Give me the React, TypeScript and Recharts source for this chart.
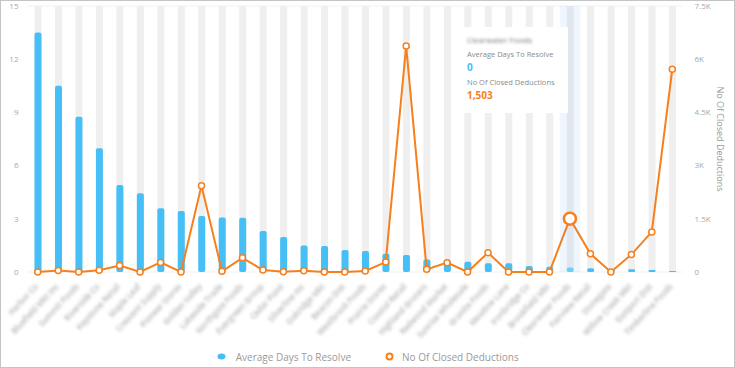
import React from "react";
import {
  ComposedChart,
  Bar,
  Line,
  XAxis,
  YAxis,
  CartesianGrid,
  Tooltip,
  Legend,
} from "recharts";

// customer names are blurred in the source, so these are stand-ins
const customers = [
  "Harbor Co",
  "Bluefield Mkt Inc",
  "Summit Foods",
  "Riverside Co",
  "Keystone Retail",
  "Maple Leaf",
  "Crescent Supply",
  "Pioneer Stores",
  "Golden Valley",
  "Lakeside Trade",
  "Northgate Foods",
  "Evergreen Group",
  "Cedar Point",
  "Silverline Inc",
  "Oakridge Mkt",
  "Beacon Dist",
  "Westbrook Foods",
  "Prairie Stores",
  "Coastal Retail",
  "Highland Grocers",
  "Redwood Market",
  "Sunrise Wholesale",
  "Granite Foods",
  "Meadow Lane",
  "Ironbridge Co",
  "Brookfield Mkt",
  "Clearwater Foods",
  "Fairview Retail",
  "Stonegate",
  "Willow Creek Mkt",
  "Eastport Dist",
  "Timberline Foods",
];

const avgDaysToResolve = [
  13.5, 10.5, 8.76, 6.98, 4.9, 4.44, 3.6, 3.44, 3.16, 3.08, 3.06, 2.31, 1.97,
  1.5, 1.47, 1.24, 1.18, 1.03, 0.96, 0.71, 0.62, 0.58, 0.49, 0.49, 0.34, 0.3,
  0.26, 0.21, 0.15, 0.15, 0.11, 0.06,
];

const closedDeductions = [
  0, 40, 0, 50, 180, 0, 270, 0, 2435, 20, 400, 55, 10, 35, 0, 0, 30, 280, 6370,
  75, 263, 0, 545, 0, 0, 0, 1503, 515, 0, 490, 1130, 5716,
];

const leftTicks = [0, 3, 6, 9, 12, 15];
const rightTicks = [0, 1500, 3000, 4500, 6000, 7500];

const BLUE = "#45bff5";
const ORANGE = "#f77f1c";
const FONT = "'Open Sans', sans-serif";

const data = customers.map((name, i) => ({
  name,
  avgDays: avgDaysToResolve[i],
  closed: closedDeductions[i],
}));

const fmtK = (v: number) => (v === 0 ? "0" : `${v / 1000}K`);

function BlurTick({ x, y, payload }: any) {
  return (
    <g transform={`translate(${x - 1},${y + 5})`}>
      <text
        x={0}
        y={0}
        dy={3}
        textAnchor="end"
        transform="rotate(-47)"
        fill="#b4b4b4"
        fontSize={8}
        fontWeight={600}
        fontFamily={FONT}
        style={{ filter: "blur(1.8px)" }}
      >
        {payload.value}
      </text>
    </g>
  );
}

// band-shaped hover column, translucent so the marks show through
function BandCursor(props: any) {
  const { points, top, height, width } = props;
  if (!points || !points.length) return null;
  const w = width / data.length;
  return (
    <rect
      x={points[0].x - w / 2}
      y={top}
      width={w}
      height={height}
      fill="#3b8fe0"
      fillOpacity={0.08}
    />
  );
}

function TipBox({ active, payload, label }: any) {
  if (!active || !payload || !payload.length) return null;
  const days = payload.find((p: any) => p.dataKey === "avgDays");
  const closed = payload.find((p: any) => p.dataKey === "closed");
  return (
    <div
      style={{
        width: 108,
        height: 86,
        boxSizing: "border-box",
        background: "#fff",
        padding: "7px 7px",
        fontFamily: FONT,
      }}
    >
      <div
        style={{
          fontSize: 8,
          color: "#777",
          filter: "blur(1.5px)",
          lineHeight: "11px",
        }}
      >
        {label}
      </div>
      <div style={{ fontSize: 7.5, color: "#8a8a8a", marginTop: 4, lineHeight: "10px" }}>
        Average Days To Resolve
      </div>
      <div style={{ fontSize: 10, fontWeight: 700, color: BLUE, marginTop: 2, lineHeight: "13px" }}>
        {Math.round(days ? days.value : 0)}
      </div>
      <div style={{ fontSize: 7.5, color: "#8a8a8a", marginTop: 3, lineHeight: "10px" }}>
        No Of Closed Deductions
      </div>
      <div style={{ fontSize: 10, fontWeight: 700, color: ORANGE, marginTop: 2, lineHeight: "13px" }}>
        {(closed ? closed.value : 0).toLocaleString("en-US")}
      </div>
    </div>
  );
}

function LegendRow() {
  const item = { display: "flex", alignItems: "center", fontSize: 10, color: "#9a9a9a" };
  return (
    <div
      style={{
        display: "flex",
        justifyContent: "center",
        gap: 34,
        fontFamily: FONT,
        height: 25,
        alignItems: "center",
        paddingLeft: 2,
        paddingTop: 4,
        boxSizing: "border-box",
      }}
    >
      <div style={item}>
        <svg width={9} height={7} style={{ marginRight: 10 }}>
          <ellipse cx={4.5} cy={3.5} rx={4} ry={3} fill={BLUE} />
        </svg>
        Average Days To Resolve
      </div>
      <div style={item}>
        <svg width={9} height={9} style={{ marginRight: 8 }}>
          <circle cx={4.5} cy={4.5} r={3} fill="#fff" stroke={ORANGE} strokeWidth={2} />
        </svg>
        No Of Closed Deductions
      </div>
    </div>
  );
}

export default function App() {
  return (
    <div
      style={{
        position: "absolute",
        left: 0,
        top: 0,
        width: 735,
        height: 368,
        boxSizing: "border-box",
        border: "1px solid #c4c4c4",
        background: "#fff",
      }}
    >
      <ComposedChart
        width={733}
        height={366}
        data={data}
        margin={{ top: 5, right: 1.5, bottom: 0, left: 0 }}
      >
        <CartesianGrid stroke="#f1f1f1" vertical={false} />
        <XAxis
          dataKey="name"
          interval={0}
          height={70}
          tick={<BlurTick />}
          tickLine={false}
          axisLine={false}
        />
        <YAxis
          yAxisId="left"
          width={26.5}
          domain={[0, 15]}
          ticks={leftTicks}
          tickLine={false}
          axisLine={false}
          tickMargin={3}
          tick={{ fontSize: 8, fill: "#a8a8a8", fontFamily: FONT }}
        />
        <YAxis
          yAxisId="right"
          orientation="right"
          width={50}
          domain={[0, 7500]}
          ticks={rightTicks}
          tickFormatter={fmtK}
          tickLine={false}
          axisLine={false}
          tickMargin={6}
          tick={{ fontSize: 8, fill: "#a8a8a8", fontFamily: FONT, textAnchor: "start" }}
          label={{
            content: (p: any) => {
              const vb = p.viewBox;
              const cx = vb.x + vb.width - 12;
              const cy = vb.y + vb.height / 2;
              return (
                <text
                  x={cx}
                  y={cy}
                  transform={`rotate(90, ${cx}, ${cy})`}
                  textAnchor="middle"
                  dominantBaseline="central"
                  fill="#9a9a9a"
                  fontSize={9}
                  fontFamily={FONT}
                >
                  No Of Closed Deductions
                </text>
              );
            },
          }}
        />
        <Tooltip
          defaultIndex={26}
          active
          position={{ x: 459, y: 26 }}
          content={<TipBox />}
          cursor={<BandCursor />}
          isAnimationActive={false}
          wrapperStyle={{ outline: "none" }}
        />
        <Legend verticalAlign="bottom" height={25} content={<LegendRow />} />
        <Bar
          yAxisId="left"
          dataKey="avgDays"
          name="Average Days To Resolve"
          fill={BLUE}
          barSize={7}
          radius={[2, 2, 2, 2]}
          background={{ fill: "#efefef" }}
          activeBar={{ fill: "#74d3fb" }}
          isAnimationActive={false}
        />
        <Line
          yAxisId="right"
          type="linear"
          dataKey="closed"
          name="No Of Closed Deductions"
          stroke={ORANGE}
          strokeWidth={2}
          dot={{ r: 3, fill: "#fff", stroke: ORANGE, strokeWidth: 1.5 }}
          activeDot={{ r: 6, fill: "#fff", stroke: ORANGE, strokeWidth: 2.5 }}
          isAnimationActive={false}
        />
      </ComposedChart>
    </div>
  );
}
